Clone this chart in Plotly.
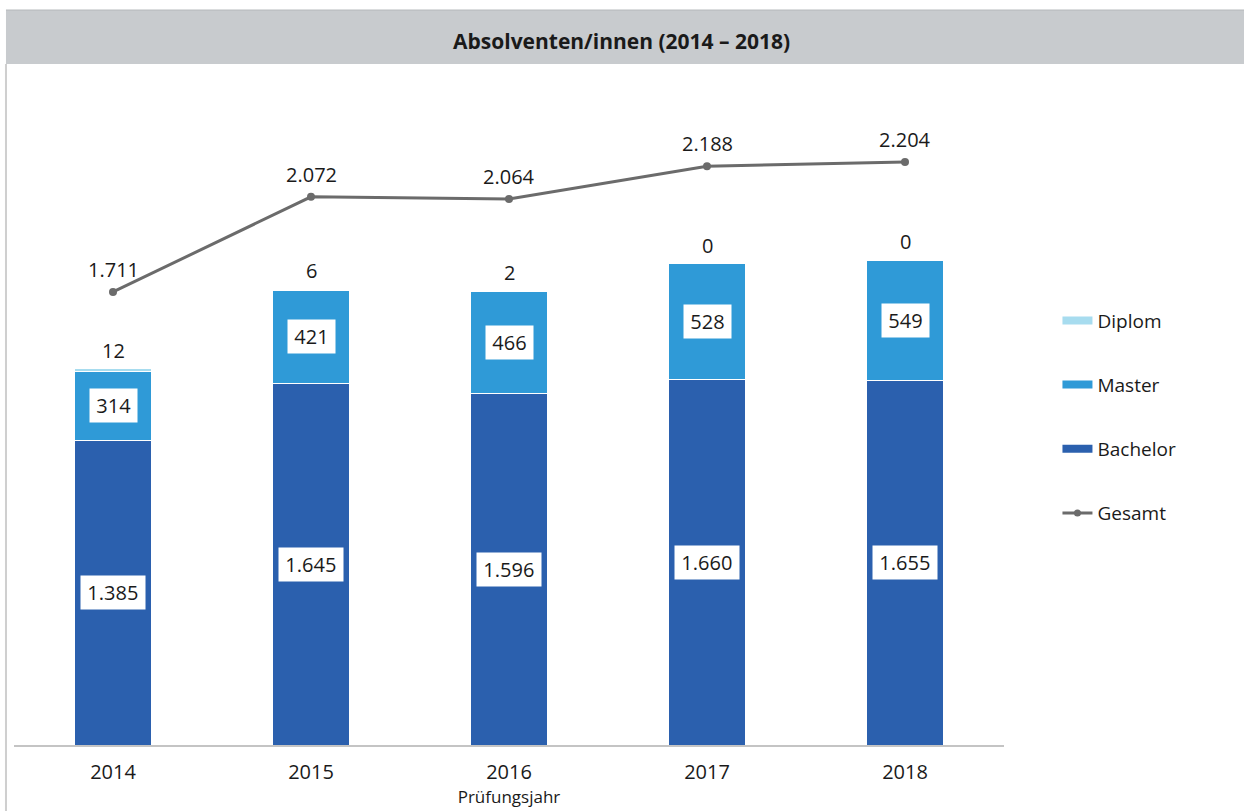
import plotly.graph_objects as go

# Absolventen/innen nach Abschlussart und Prüfungsjahr
jahre = ["2014", "2015", "2016", "2017", "2018"]
bachelor = [1385, 1645, 1596, 1660, 1655]
master = [314, 421, 466, 528, 549]
diplom = [12, 6, 2, 0, 0]
gesamt = [1711, 2072, 2064, 2188, 2204]

c_bachelor = "#2b60ae"
c_master = "#2f9ad7"
c_diplom = "#a7dcef"
c_gesamt = "#6b6b6b"
FONT = "Open Sans"


def de(n):
    return f"{n:,}".replace(",", ".")


fig = go.Figure()

for name, vals, col in [("Bachelor", bachelor, c_bachelor),
                        ("Master", master, c_master),
                        ("Diplom", diplom, c_diplom)]:
    fig.add_trace(go.Bar(x=jahre, y=vals, name=name, marker_color=col,
                         marker_line=dict(color="white", width=1),
                         width=0.39, showlegend=False))

fig.add_trace(go.Scatter(x=jahre, y=gesamt, name="Gesamt", yaxis="y2",
                         mode="lines+markers",
                         line=dict(color=c_gesamt, width=3),
                         marker=dict(size=8, color=c_gesamt),
                         showlegend=False))

# legend entries (wide bar swatches)
legend_items = [("Diplom", c_diplom, 1), ("Master", c_master, 2),
                ("Bachelor", c_bachelor, 3)]
for name, col, rank in legend_items:
    fig.add_trace(go.Scatter(x=[None], y=[None], name=name, mode="lines",
                             line=dict(color=col, width=8),
                             legendgroup=name, legendrank=rank))
fig.add_trace(go.Scatter(x=[None], y=[None], name="Gesamt", mode="lines+markers",
                         line=dict(color=c_gesamt, width=3),
                         marker=dict(size=7, color=c_gesamt),
                         legendgroup="Gesamt", legendrank=4))

ann = []
lab_font = dict(family=FONT, size=20, color="#1a1a1a")
box = dict(bgcolor="white", borderpad=3, showarrow=False, font=lab_font)
for i in range(len(jahre)):
    ann.append(dict(x=i, y=bachelor[i] / 2, text="\u2009" + de(bachelor[i]) + "\u2009", **box))
    ann.append(dict(x=i, y=bachelor[i] + master[i] / 2, text="\u2009" + de(master[i]) + "\u2009", **box))
    ann.append(dict(x=i, y=bachelor[i] + master[i] + diplom[i], text=de(diplom[i]),
                    yanchor="bottom", yshift=3, showarrow=False, font=lab_font))
    ann.append(dict(x=i, y=gesamt[i], yref="y2", text=de(gesamt[i]),
                    yanchor="bottom", yshift=7, showarrow=False, font=lab_font))

# title bar text
ann.append(dict(x=0.614, y=1.0915, xref="paper", yref="paper", yanchor="middle",
                text="<b>Absolventen/innen (2014 – 2018)</b>", showarrow=False,
                font=dict(family=FONT, size=21, color="#1a1a1a")))

shapes = [
    dict(type="rect", xref="paper", yref="paper", x0=-0.0081, x1=1.25,
         y0=1.0558, y1=1.1395, fillcolor="#c8cbce", line=dict(width=0), layer="below"),
    dict(type="line", xref="paper", yref="paper", x0=-0.0081, x1=1.25,
         y0=1.1395, y1=1.1395, line=dict(color="#b5b8bb", width=1)),
    dict(type="line", xref="paper", yref="paper", x0=-0.0081, x1=-0.0081,
         y0=-0.11, y1=1.0558, line=dict(color="#cfcfcf", width=2)),
]

fig.update_layout(
    width=1244, height=811,
    margin=dict(l=14, r=240, t=100, b=66),
    paper_bgcolor="white", plot_bgcolor="white",
    barmode="stack",
    font=dict(family=FONT, size=20, color="#1a1a1a"),
    xaxis=dict(type="category", range=[-0.5, 4.5], showgrid=False,
               showline=True, linecolor="#c4c4c4", linewidth=1.5,
               ticks="", ticklabelstandoff=8,
               tickfont=dict(family=FONT, size=20, color="#1a1a1a"),
               title=dict(text="Prüfungsjahr", standoff=1,
                          font=dict(family=FONT, size=17, color="#1a1a1a"))),
    yaxis=dict(range=[0, 2932], visible=False),
    yaxis2=dict(range=[-7, 2439], overlaying="y", visible=False),
    legend=dict(x=1.054, y=0.6875, xanchor="left", yanchor="top",
                tracegroupgap=36.5, font=dict(family=FONT, size=19, color="#1a1a1a"),
                itemwidth=30),
    annotations=ann,
    shapes=shapes,
)

fig.write_html("out.html")
